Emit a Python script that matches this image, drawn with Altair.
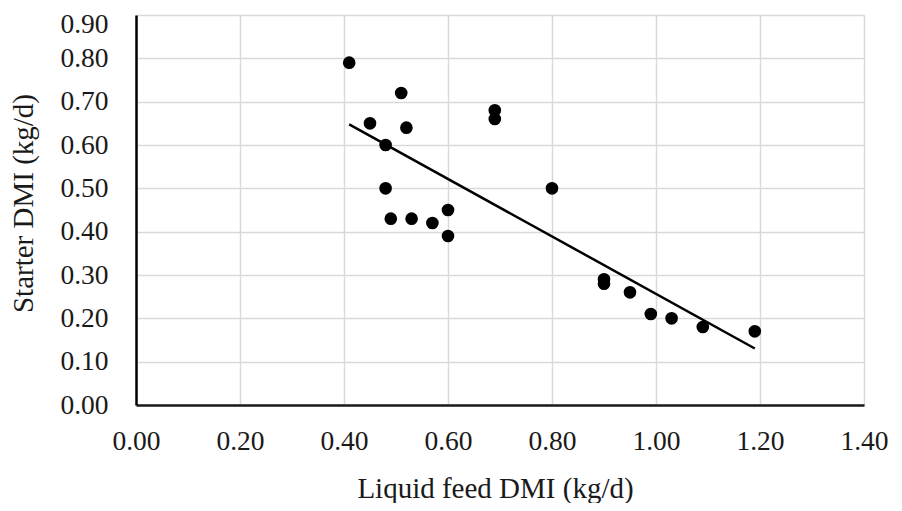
import altair as alt
import pandas as pd

liquid_feed_dmi = [0.41, 0.51, 0.45, 0.52, 0.48, 0.48, 0.49, 0.53, 0.57, 0.60, 0.60,
                   0.69, 0.69, 0.80, 0.90, 0.90, 0.95, 0.99, 1.03, 1.09, 1.19]
starter_dmi = [0.79, 0.72, 0.65, 0.64, 0.60, 0.50, 0.43, 0.43, 0.42, 0.45, 0.39,
               0.68, 0.66, 0.50, 0.29, 0.28, 0.26, 0.21, 0.20, 0.18, 0.17]
x_ticks = [0.0, 0.2, 0.4, 0.6, 0.8, 1.0, 1.2, 1.4]
y_ticks = [0.0, 0.1, 0.2, 0.3, 0.4, 0.5, 0.6, 0.7, 0.8, 0.9]

df = pd.DataFrame({"x": liquid_feed_dmi, "y": starter_dmi})

FONT = "Liberation Serif"
TXT = "#1a1a1a"

x_enc = alt.X(
    "x:Q",
    scale=alt.Scale(domain=[0, 1.4], nice=False, zero=True),
    axis=alt.Axis(
        values=x_ticks, format=".2f", title="Liquid feed DMI (kg/d)",
        grid=True, gridColor="#d9d9d9", gridWidth=1.5,
        domainColor="#1a1a1a", domainWidth=2.5,
        ticks=False, tickSize=0, labelPadding=22,
        labelFont=FONT, labelFontSize=27.5, labelColor=TXT,
        titleFont=FONT, titleFontSize=29, titleFontWeight="normal", titleColor=TXT,
        titleX=359, titleY=92, titleBaseline="alphabetic", titleAlign="center",
        labelFlush=False, labelOverlap=False,
    ),
)
y_enc = alt.Y(
    "y:Q",
    scale=alt.Scale(domain=[0, 0.9], nice=False, zero=True),
    axis=alt.Axis(
        values=y_ticks, format=".2f", title="Starter DMI (kg/d)",
        grid=True, gridColor="#d9d9d9", gridWidth=1.5,
        domainColor="#000000", domainWidth=2.5,
        ticks=False, tickSize=0, labelPadding=28,
        labelFont=FONT, labelFontSize=27.5, labelColor=TXT,
        labelOffset={"condition": {"test": "datum.value >= 0.89", "value": 9}, "value": 0},
        titleFont=FONT, titleFontSize=29, titleFontWeight="normal", titleColor=TXT,
        titleX=-113, titleY=188, titleBaseline="middle", titleAlign="center", titleAngle=270,
        labelFlush=False, labelOverlap=False,
    ),
)

points = alt.Chart(df).mark_circle(size=160, color="#000000", opacity=1).encode(x=x_enc, y=y_enc)

trend = (
    alt.Chart(df)
    .transform_regression("x", "y", method="linear")
    .mark_line(color="#000000", strokeWidth=2.5)
    .encode(x="x:Q", y="y:Q")
)

chart = (
    alt.layer(trend, points)
    .properties(
        width=728, height=390,
        autosize=alt.AutoSizeParams(type="none"),
        padding={"left": 128, "top": 7, "right": 30, "bottom": 98},
    )
    .configure_view(stroke=None)
    .configure(background="white")
)

chart.save("out.html", embed_options={"renderer": "svg", "actions": False})
